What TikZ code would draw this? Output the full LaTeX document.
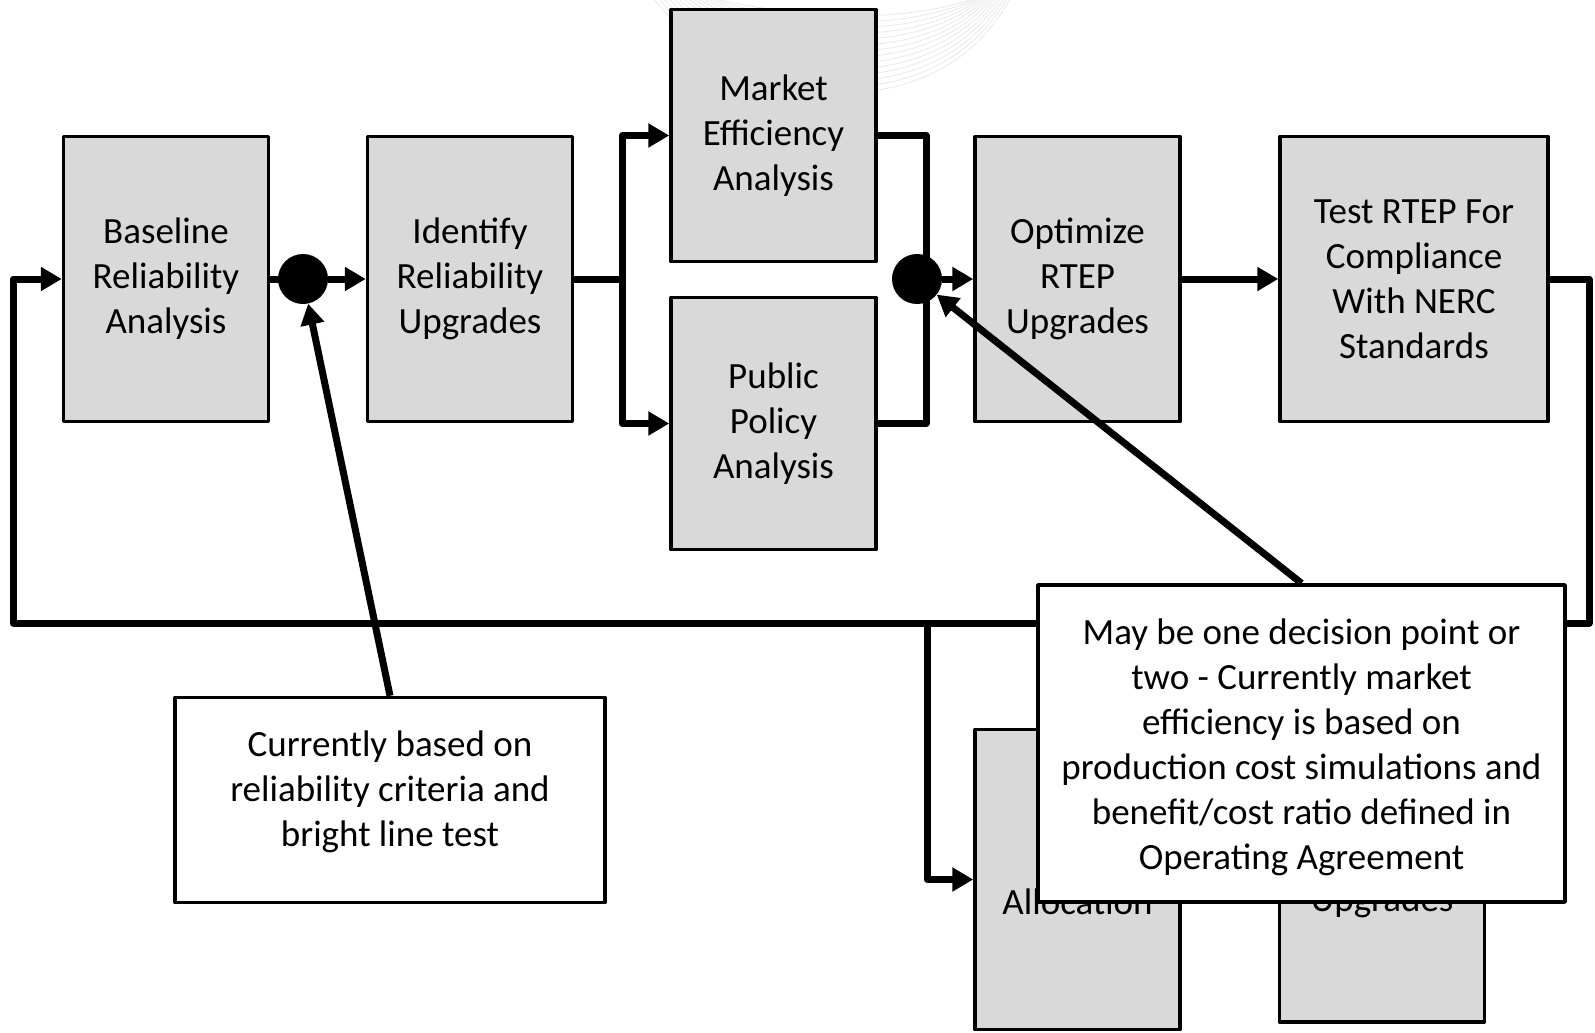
\documentclass[tikz,border=0pt]{standalone}
\usepackage{fontspec}
\setmainfont{Carlito}
\usetikzlibrary{arrows.meta}

\definecolor{boxgray}{HTML}{D9D9D9}
\definecolor{swooshgray}{HTML}{EAEAEA}

\begin{document}
\begin{tikzpicture}[x=1pt, y=-1pt, line join=round,
  stage/.style={draw, line width=3.5pt, fill=boxgray, minimum width=205pt,
    minimum height=285pt, inner sep=0pt, align=center,
    font=\fontsize{37}{45}\selectfont},
  stagetext/.style={inner sep=0pt, align=center, font=\fontsize{37}{45}\selectfont},
  note/.style={draw, line width=3.5pt, fill=white, inner sep=0pt},
  dot/.style={circle, fill=black, minimum size=50pt, inner sep=0pt},
  flow/.style={line width=7pt},
  tip/.style={-{Triangle[length=21pt,width=23pt]}},
  swoosh/.style={swooshgray, line width=0.9pt}]

  %% ---- faint background swoosh ----
  \foreach \i in {0,...,13} {
    \pgfmathsetmacro{\sx}{720-5*\i}
    \pgfmathsetmacro{\ex}{970+3*\i}
    \pgfmathsetmacro{\dp}{20+7.5*\i}
    \draw[swoosh] (\sx,0) .. controls ({\sx+90},{\dp}) and ({\ex-70},{1.1*\dp}) .. (\ex,0);
  }

  %% ---- process stages ----
  \node[stage] (base)   at (166,279)    {Baseline\\Reliability\\Analysis};
  \node[stage] (ident)  at (470,279)    {Identify\\Reliability\\Upgrades};
  \node[stage, minimum height=252pt] (market) at (773.5,135.5) {Market\\Efficiency\\Analysis};
  \node[stage, minimum height=252pt] (policy) at (773.5,423.5) {Public\\Policy\\Analysis};
  \node[stage] (optim)  at (1077.5,279) {Optimize\\RTEP\\Upgrades};
  \node[stage, minimum width=268pt] (test) at (1414,279) {Test RTEP For\\Compliance\\With NERC\\Standards};
  \node[stage, minimum height=300pt] (alloc) at (1077.5,879.5) {};
  \node[stage] (upgr)   at (1382,879.5) {};
  \node[stagetext] (alloctxt) at (1077.5,902) {Allocation};
  \node[stagetext] (upgrtxt)  at (1382,902)   {Upgrades};

  %% ---- junction points ----
  \coordinate (fork)  at (622,279);
  \coordinate (merge) at (926,279);
  \coordinate (ret)   at (1589,623);
  \coordinate (back)  at (13,623);
  \coordinate (tap)   at (927,623);

  %% ---- flow lines ----
  \draw[flow] (base.east) -- (303,279);
  \draw[flow] (ident.east) -- (fork);
  \draw[flow, tip] (fork) |- (market.west);
  \draw[flow, tip] (fork) |- (policy.west);
  \draw[flow] (market.east) -| (merge);
  \draw[flow] (policy.east) -| (merge);
  \draw[flow, tip] (optim.east) -- (test.west);
  \draw[flow, tip] (test.east) -| (ret) -- (back) |- (base.west);
  \draw[flow, tip] (tap) |- (alloc.west);

  \node[dot] (j1) at (303,279) {};
  \node[dot] (j2) at (917,279) {};
  \draw[flow, tip] (j1) -- (ident.west);
  \draw[flow, tip] (j2) -- (optim.west);

  %% ---- callouts ----
  \node[note, minimum width=430pt, minimum height=205pt] (note1) at (390,800) {};
  \node[stagetext] (note1txt) at (390,792)
    {Currently based on\\reliability criteria and\\bright line test};
  \node[note, minimum width=527pt, minimum height=317pt] (note2) at (1301.5,743.5) {};
  \node[stagetext] (note2txt) at (1301.5,747)
    {May be one decision point or\\two - Currently market\\efficiency is based on\\production cost simulations and\\benefit/cost ratio defined in\\Operating Agreement};

  \draw[flow, tip] (note1.north) -- (j1);
  \draw[flow, tip] (note2.north) -- (j2);

  \pgfresetboundingbox
  \path[use as bounding box] (0,0) rectangle (1595,1033);
\end{tikzpicture}
\end{document}
